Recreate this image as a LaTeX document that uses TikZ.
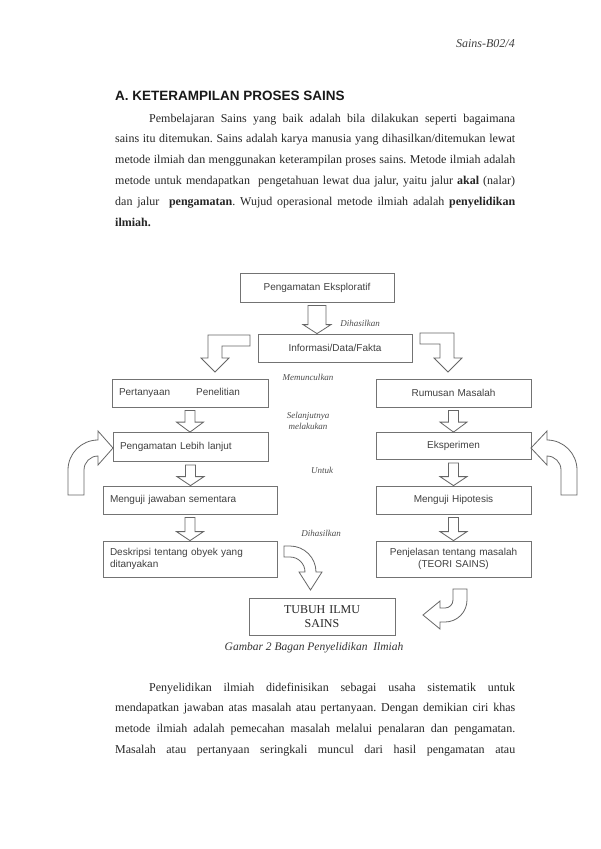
\documentclass[tikz,border=0pt]{standalone}
\usepackage{fontspec}
\setmainfont{Liberation Serif}
\setsansfont{Liberation Sans}
\usetikzlibrary{calc}
\frenchspacing
\def\panahturun(#1)(#2)(#3:#4:#5){\draw[panah] ($(#1.south)+(-#3,3)$) -- ($(#1.south |- #2.north)+(-#3,-#5)$) -- ($(#1.south |- #2.north)+(-#4,-#5)$) -- (#1.south |- #2.north) -- ($(#1.south |- #2.north)+(#4,-#5)$) -- ($(#1.south |- #2.north)+(#3,-#5)$) -- ($(#1.south)+(#3,3)$) -- cycle;}

\begin{document}
\begin{tikzpicture}[x=1pt, y=-1pt,
		panah/.style={draw=black!60, fill=white, line width=0.8pt},
		kotak/.style={draw=black!55, line width=0.8pt, inner xsep=7pt, inner ysep=0pt, align=center, text=black!75, font=\sffamily\fontsize{10}{11.5}\selectfont},
		ket/.style={inner sep=0pt, text=black!70, font=\itshape\fontsize{9}{11}\selectfont},
		teks/.style={anchor=base west, inner sep=0pt, text width=400pt, align=justify, text=black!85, font=\fontsize{12}{20.9}\selectfont}]
		%%%%% START %%%%%
		
		\fill[white] (0,0) rectangle (600,849);
		\useasboundingbox (0,0) rectangle (600,849);
		
		\node[anchor=base east, inner sep=0pt, text=black!75, font=\itshape\fontsize{12}{14}\selectfont] (hal) at (515,47) {Sains-B02/4};
		\node[anchor=base west, inner sep=0pt, text=black!90, font=\sffamily\bfseries\fontsize{13.5}{16}\selectfont] (bab) at (115,100) {A. KETERAMPILAN PROSES SAINS};
		
		\node[teks] (par1) at (115,122) {\hspace*{34pt}Pembelajaran Sains yang baik adalah bila dilakukan seperti bagaimana\linebreak
			sains itu ditemukan. Sains adalah karya manusia yang dihasilkan/ditemukan lewat\linebreak
			metode ilmiah dan menggunakan keterampilan proses sains. Metode ilmiah adalah\linebreak
			metode untuk mendapatkan\ \ pengetahuan lewat dua jalur, yaitu jalur \textbf{akal} (nalar)\linebreak
			dan jalur\ \ \textbf{pengamatan}. Wujud operasional metode ilmiah adalah \textbf{penyelidikan}\linebreak
			\textbf{ilmiah.}};
		
		% kotak
		\node[kotak, text width=140pt, minimum height=29pt] (eksplo) at (317,287.5) {Pengamatan Eksploratif};
		\node[kotak, text width=140pt, minimum height=28pt] (info) at (335,348) {Informasi/Data/Fakta};
		\node[kotak, text width=142pt, minimum height=28pt, align=left] (tanya) at (190,393) {Pertanyaan\hspace{26pt}Penelitian};
		\node[kotak, text width=141pt, minimum height=28pt] (rumusan) at (453.5,393) {Rumusan Masalah};
		\node[kotak, text width=141pt, minimum height=29pt, align=left] (lanjut) at (190.5,447) {Pengamatan Lebih lanjut};
		\node[kotak, text width=141pt, minimum height=27pt] (eksperimen) at (453.5,446) {Eksperimen};
		\node[kotak, text width=160pt, minimum height=28pt, align=left] (menguji) at (190,500) {Menguji jawaban sementara};
		\node[kotak, text width=141pt, minimum height=28pt] (hipotesis) at (453.5,500) {Menguji Hipotesis};
		\node[kotak, text width=160pt, minimum height=36pt, align=left] (deskripsi) at (190,559) {Deskripsi tentang obyek yang\\ditanyakan};
		\node[kotak, text width=141pt, minimum height=36pt] (penjelasan) at (453.5,559) {Penjelasan tentang masalah\\(TEORI SAINS)};
		\node[kotak, text width=132pt, minimum height=37pt, text=black!85, font=\fontsize{12}{14}\selectfont] (tubuh) at (322,617) {TUBUH ILMU\\SAINS};
		
		% panah lurus
		\panahturun(eksplo)(info)(9:14:9)
		\panahturun(tanya)(lanjut)(5:13.5:10)
		\panahturun(lanjut)(menguji)(5:13.5:9)
		\panahturun(menguji)(deskripsi)(5:13.5:9)
		\panahturun(rumusan)(eksperimen)(5:13.5:10)
		\panahturun(eksperimen)(hipotesis)(5:13.5:9)
		\panahturun(hipotesis)(penjelasan)(5:13.5:9)
		
		% panah siku
		\draw[panah] (250,335) -- (208,335) -- (208,358) -- (201,358) -- (215,372) -- (229,358) -- (222,358) -- (222,346) -- (250,346) -- cycle;
		\draw[panah] (420,333) -- (454,333) -- (454,358) -- (462,358) -- (448,372) -- (434,358) -- (440,358) -- (440,344) -- (420,344) -- cycle;
		
		% panah lengkung
		\draw[panah] (68,495) -- (68,470) arc (180:270:30) -- (98,431) -- (113,448) -- (98,465) -- (98,456) arc (270:180:14) -- (84,495) -- cycle;
		\draw[panah] (577,495) -- (577,470) arc (0:-90:30) -- (547,431) -- (531,448) -- (547,465) -- (547,456) arc (-90:0:14) -- (561,495) -- cycle;
		\draw[panah] (284,546) -- (290,546) arc (-90:0:26) -- (322,572) -- (310.5,590) -- (299,572) -- (305,572) arc (0:-90:15) -- (284,557) -- cycle;
		\draw[panah] (453,589) -- (467,589) -- (467,600) arc (0:90:22) -- (440,622) -- (440,629) -- (423,615) -- (440,601) -- (440,608) -- (445,608) arc (90:0:8) -- cycle;
		
		% keterangan
		\node[ket] (hasil1) at (360,323) {Dihasilkan};
		\node[ket] (muncul) at (308,377) {Memunculkan};
		\node[ket, align=center] (lakukan) at (308,421) {Selanjutnya\\melakukan};
		\node[ket] (untuk) at (322,470) {Untuk};
		\node[ket] (hasil2) at (321,533) {Dihasilkan};
		
		\node[inner sep=0pt, text=black!80, font=\itshape\fontsize{11.5}{13}\selectfont] (gambar) at (314,648) {Gambar 2 Bagan Penyelidikan\ \ Ilmiah};
		
		\node[teks] (par2) at (115,691) {\hspace*{34pt}Penyelidikan ilmiah didefinisikan sebagai usaha sistematik untuk\linebreak
			mendapatkan jawaban atas masalah atau pertanyaan. Dengan demikian ciri khas\linebreak
			metode ilmiah adalah pemecahan masalah melalui penalaran dan pengamatan.\linebreak
			Masalah atau pertanyaan seringkali muncul dari hasil pengamatan atau{\parfillskip=0pt\par}};
		
		%%%%% END %%%%%
\end{tikzpicture}
\end{document}
